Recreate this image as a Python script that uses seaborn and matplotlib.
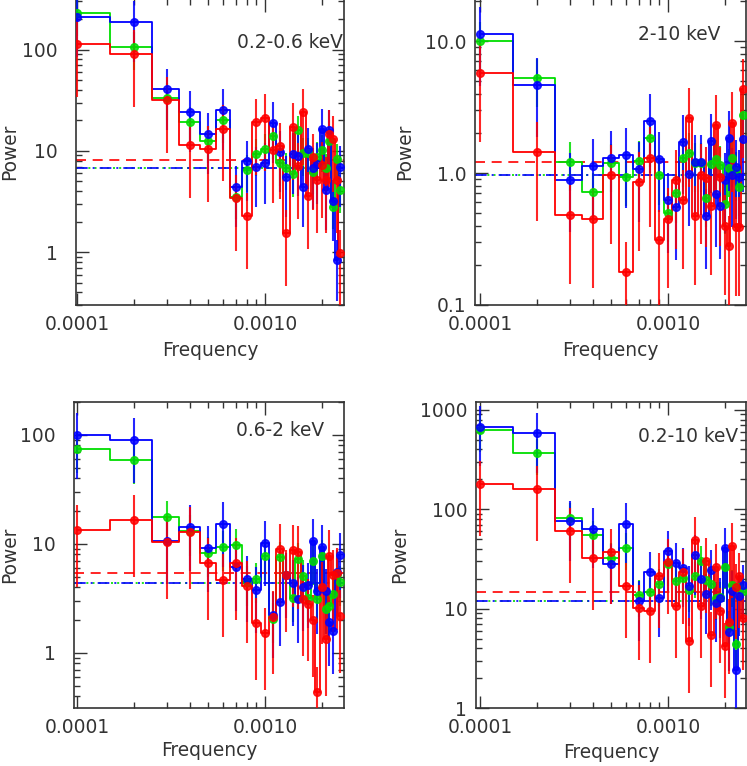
"""Power spectra in four energy bands, redrawn as log-log step plots."""

import matplotlib

matplotlib.use("Agg")

import matplotlib.pyplot as plt
import matplotlib.ticker as mticker
import numpy as np
import seaborn as sns


FREQ = [0.0001, 0.0002, 0.0003, 0.0004, 0.0005, 0.0006, 0.0007, 0.0008, 0.0009, 0.0010,
        0.0011, 0.0012, 0.0013, 0.0014, 0.0015, 0.0016, 0.0017, 0.0018, 0.0019, 0.0020,
        0.0021, 0.0022, 0.0023, 0.0024, 0.0025]

# 0.2-0.6 keV
SOFT_BLUE = [210, 187, 40.5, 24.4, 14.8, 25.6, 4.4, 7.9, 6.9, 7.5, 19.0, 9.8, 5.5, 9.3, 8.9,
             4.4, 10.4, 6.7, 7.4, 16.3, 4.1, 16.0, 3.2, 0.83, 7.0]
SOFT_GREEN = [229, 106, 33.5, 19.3, 12.6, 20.0, 3.5, 6.5, 9.3, 10.5, 14.0, 7.5, 6.8, 5.9, 15.9,
              9.5, 9.6, 6.2, 8.7, 10.2, 6.7, 12.5, 2.8, 8.3, 4.1]
SOFT_RED = [114, 91, 31.8, 11.5, 10.4, 16.6, 3.4, 2.26, 19.2, 21.3, 10.1, 11.1, 1.54, 17.3, 7.1,
            24.0, 3.6, 8.6, 5.1, 7.2, 5.1, 14.8, 13.1, 5.2, 0.97]

# 2-10 keV
HARD_BLUE = [11.4, 4.65, 0.89, 1.13, 1.31, 1.36, 1.07, 2.48, 1.27, 0.62, 0.55, 1.73, 0.99, 1.21,
             1.21, 0.47, 1.76, 0.69, 0.56, 0.88, 1.83, 0.97, 1.12, 0.93, 1.81]
HARD_GREEN = [10.0, 5.25, 1.22, 0.72, 1.19, 0.93, 1.24, 1.85, 0.96, 0.50, 0.70, 1.31, 1.43, 1.2,
              1.2, 0.65, 1.17, 1.27, 1.15, 0.58, 1.09, 1.31, 1.03, 0.79, 2.77]
HARD_RED = [5.7, 1.44, 0.48, 0.45, 0.96, 0.177, 0.85, 1.31, 0.31, 0.45, 0.88, 0.62, 2.6, 0.47,
            0.97, 0.92, 0.56, 2.3, 0.93, 0.40, 0.28, 2.4, 0.39, 0.39, 4.3]

# 0.6-2 keV
MID_BLUE = [98.6, 90, 10.6, 14.2, 9.1, 15.2, 6.1, 4.8, 3.8, 10.2, 2.24, 2.9, 5.2, 4.4, 3.1,
            4.0, 4.2, 10.6, 3.7, 9.3, 3.7, 1.9, 1.6, 5.5, 7.9]
MID_GREEN = [74.5, 59, 17.7, 13.0, 8.3, 9.3, 9.8, 4.5, 4.8, 7.7, 2.05, 7.5, 5.2, 3.2, 7.2,
             5.1, 3.2, 7.0, 3.1, 7.8, 2.5, 2.7, 3.5, 5.3, 4.5]
MID_RED = [13.5, 16.4, 10.5, 12.8, 6.7, 4.7, 6.7, 4.1, 1.87, 1.51, 2.15, 9.0, 5.2, 8.7, 8.5,
           3.1, 2.8, 2.0, 0.44, 4.0, 1.35, 7.8, 5.2, 5.4, 2.2]

# 0.2-10 keV
FULL_BLUE = [680, 582, 76, 64, 28, 72, 12.0, 23.4, 12.9, 38, 29, 25.8, 16.8, 34.4, 19.8,
             14.0, 24.5, 11.5, 12.8, 40.6, 5.9, 15.0, 2.4, 13.4, 17.2]
FULL_GREEN = [630, 366, 82, 55, 32.5, 41, 13.8, 14.7, 17.9, 28.4, 19, 20.5, 15.5, 21.2, 30.5,
              19.5, 17.8, 12.8, 13.3, 26.5, 6.5, 17.5, 4.4, 16.5, 15.2]
FULL_RED = [179, 160, 61, 32.3, 37.5, 16.8, 10.2, 9.5, 21.6, 29.4, 10.8, 23.7, 4.8, 49, 10.6,
            30, 5.5, 26.5, 9.5, 4.2, 7.4, 42.5, 16.5, 21.6, 8.1]

# noise levels (red dashed, blue/green dash-dot)
RED_LEVELS = [8.15, 1.22, 5.35, 14.7]
BLUE_LEVELS = [6.8, 0.97, 4.35, 12.1]

# fractional error on each power value
BLUE_ERR = 0.6
GREEN_ERR = 0.4
RED_ERR = 0.7

BAND_LABELS = ["0.2-0.6 keV", "2-10 keV", "0.6-2 keV", "0.2-10 keV"]
Y_TICKS = [[1, 10, 100], [0.1, 1, 10], [1, 10, 100], [1, 10, 100, 1000]]
Y_LABELS = [["1", "10", "100"], ["0.1", "1.0", "10.0"], ["1", "10", "100"],
            ["1", "10", "100", "1000"]]

BLUE = "#0000ff"
GREEN = "#00dd00"
RED = "#ff0000"
INK = "#333333"
FS = 13.4

sns.set_theme(style="ticks")
plt.rcParams["font.family"] = ["DejaVu Sans"]
plt.rcParams["font.size"] = FS

W, H = 747, 766
fig = plt.figure(figsize=(W / 100, H / 100), dpi=100)

# pixel boxes: left, right, top, bottom
boxes = [(76, 344.3, -1.5, 305), (475, 746, -1.5, 305),
         (73.5, 344.3, 402, 708.3), (475.7, 746, 402, 708.3)]
xlims = [(9.88e-5, 2.64e-3), (9.41e-5, 2.60e-3), (9.58e-5, 2.64e-3), (9.49e-5, 2.60e-3)]
ylims = [(0.3, 320), (0.1, 21), (0.31, 200), (1, 1200)]
ytick_pads = [13, 6, 13, 6]
ylabel_x = [-0.213, -0.225, -0.201, -0.247]
xlabel_y = [-0.118, -0.118, -0.108, -0.114]
text_y = [0.857, 0.882, 0.908, 0.886]

series = [
    (SOFT_BLUE, SOFT_GREEN, SOFT_RED),
    (HARD_BLUE, HARD_GREEN, HARD_RED),
    (MID_BLUE, MID_GREEN, MID_RED),
    (FULL_BLUE, FULL_GREEN, FULL_RED),
]

freq = np.array(FREQ)

for i, (blue, green, red) in enumerate(series):
    left, right, top, bottom = boxes[i]
    ax = fig.add_axes([left / W, (H - bottom) / H, (right - left) / W, (bottom - top) / H])
    ax.set_xscale("log")
    ax.set_yscale("log")
    ax.set_xlim(*xlims[i])
    ax.set_ylim(*ylims[i])

    # noise levels
    ax.axhline(RED_LEVELS[i], color=RED, linewidth=1.2, linestyle=(0, (6, 4)), zorder=1)
    ax.axhline(BLUE_LEVELS[i], color=GREEN, linewidth=1.2, linestyle=(0, (1.2, 2.5)), zorder=1)
    ax.axhline(BLUE_LEVELS[i], color=BLUE, linewidth=1.2, linestyle=(0, (7, 3, 1.2, 3)), zorder=1.1)

    for vals, color, frac in [(green, GREEN, GREEN_ERR), (blue, BLUE, BLUE_ERR), (red, RED, RED_ERR)]:
        vals = np.array(vals)
        sns.lineplot(x=freq, y=vals, ax=ax, color=color, linewidth=1.3,
                     drawstyle="steps-mid", estimator=None, sort=False, legend=False, zorder=2)
        ax.errorbar(freq, vals, yerr=[vals * frac, vals * frac], fmt="o", color=color,
                    markersize=5.5, elinewidth=1.5, alpha=0.85, capsize=0, zorder=3)

    ax.text(0.60, text_y[i], BAND_LABELS[i], transform=ax.transAxes, ha="left", va="center",
            fontsize=FS, color=INK)

    # axis ticks, IDL style: inward on all four sides
    ax.xaxis.set_major_locator(mticker.FixedLocator([1e-4, 1e-3]))
    ax.xaxis.set_major_formatter(mticker.FixedFormatter(["0.0001", "0.0010"]))
    ax.xaxis.set_minor_locator(mticker.LogLocator(base=10, subs=np.arange(2, 10), numticks=20))
    ax.xaxis.set_minor_formatter(mticker.NullFormatter())
    ax.yaxis.set_major_locator(mticker.FixedLocator(Y_TICKS[i]))
    ax.yaxis.set_major_formatter(mticker.FixedFormatter(Y_LABELS[i]))
    ax.yaxis.set_minor_locator(mticker.LogLocator(base=10, subs=np.arange(2, 10), numticks=20))
    ax.yaxis.set_minor_formatter(mticker.NullFormatter())

    ax.tick_params(which="both", direction="in", top=True, right=True, colors="#333333",
                   labelcolor=INK, labelsize=FS, width=1)
    ax.tick_params(which="major", length=9)
    ax.tick_params(which="minor", length=4.5)
    ax.tick_params(axis="x", which="major", pad=7)
    ax.tick_params(axis="y", which="major", pad=ytick_pads[i])

    for spine in ax.spines.values():
        spine.set_color("#333333")
        spine.set_linewidth(1.2)

    ax.set_xlabel("Frequency", fontsize=FS, color=INK)
    ax.set_ylabel("Power", fontsize=FS, color=INK)
    ax.xaxis.set_label_coords(0.5, xlabel_y[i])
    ax.yaxis.set_label_coords(ylabel_x[i], 0.5)
    ax.grid(False)

fig.savefig("out.png", dpi=100)
plt.close(fig)
